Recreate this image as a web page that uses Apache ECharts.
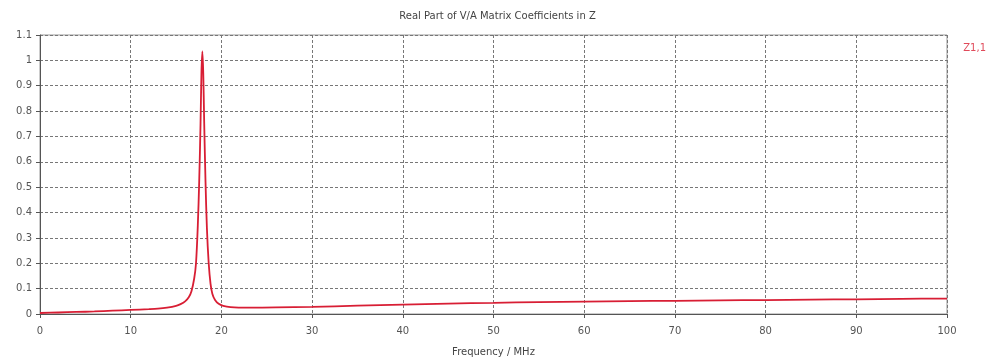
<!DOCTYPE html>
<html>
<head>
<meta charset="utf-8">
<script src="https://cdn.jsdelivr.net/npm/echarts@6/dist/echarts.min.js"></script>
<style>
  html, body { margin: 0; padding: 0; background: #fff; }
  #chartBox { width: 995px; height: 363px; }
</style>
</head>
<body>
<div id="chartBox"></div>
<script>
// frequency samples (MHz)
const freq = [0, 2, 4, 6, 8, 10, 12, 13, 14, 15, 15.5, 16, 16.4, 16.7, 17.0, 17.2, 17.4, 17.55, 17.7, 17.8, 17.9,
  18.0, 18.1, 18.25, 18.4, 18.6, 18.8, 19.0, 19.3, 19.7, 20.2, 21, 23, 26, 30, 35, 40, 45, 50, 55, 60,
  65, 70, 75, 80, 85, 90, 95, 100];
// real part of Z1,1
const z11 = [0.004, 0.006, 0.008, 0.010, 0.013, 0.016, 0.019, 0.021, 0.025, 0.032, 0.039, 0.050, 0.066, 0.09, 0.14, 0.20, 0.35, 0.52, 0.75, 0.95, 1.035,
  0.95, 0.76, 0.52, 0.34, 0.20, 0.12, 0.08, 0.055, 0.04, 0.032, 0.027, 0.025, 0.026, 0.028, 0.033, 0.037, 0.041, 0.044, 0.047, 0.049,
  0.051, 0.052, 0.054, 0.055, 0.057, 0.058, 0.060, 0.061];
const xTicks = { min: 0, max: 100, step: 10 };
const yTicks = { min: 0, max: 1.1, step: 0.1 };

const chart = echarts.init(document.getElementById("chartBox"));
const font = "DejaVu Sans";
const gridLine = { show: true, lineStyle: { color: "#777", type: [3, 2], width: 1 } };

chart.setOption({
  backgroundColor: "#fff",
  animation: false,
  title: {
    text: "Real Part of V/A Matrix Coefficients in Z",
    left: "center",
    top: 6,
    textStyle: { fontFamily: font, fontSize: 10, fontWeight: "normal", color: "#444" }
  },
  legend: {
    data: ["Z1,1"],
    right: 4,
    top: 36,
    icon: "none",
    itemWidth: 0,
    textStyle: { fontFamily: font, fontSize: 10, color: "#e04a5a" }
  },
  grid: {
    left: 40, right: 48, top: 35, bottom: 49,
    show: true, borderColor: "#999", borderWidth: 1
  },
  xAxis: {
    type: "value",
    min: xTicks.min, max: xTicks.max, interval: xTicks.step,
    name: "Frequency / MHz",
    nameLocation: "middle",
    nameGap: 33,
    nameTextStyle: { fontFamily: font, fontSize: 10, color: "#444" },
    axisLine: { show: true, lineStyle: { color: "#555" } },
    axisTick: { show: true, length: 4, lineStyle: { color: "#555" } },
    axisLabel: { fontFamily: font, fontSize: 10, color: "#555", margin: 12 },
    splitLine: gridLine
  },
  yAxis: {
    type: "value",
    min: yTicks.min, max: yTicks.max, interval: yTicks.step,
    axisLine: { show: true, lineStyle: { color: "#555" } },
    axisTick: { show: true, length: 4, lineStyle: { color: "#555" } },
    axisLabel: { fontFamily: font, fontSize: 10, color: "#555", margin: 8 },
    splitLine: gridLine
  },
  series: [{
    name: "Z1,1",
    type: "line",
    data: freq.map((f, i) => [f, z11[i]]),
    showSymbol: false,
    smooth: 0.3,
    lineStyle: { color: "#d81e34", width: 1.8 },
    itemStyle: { color: "#d81e34" }
  }]
});
</script>
</body>
</html>
